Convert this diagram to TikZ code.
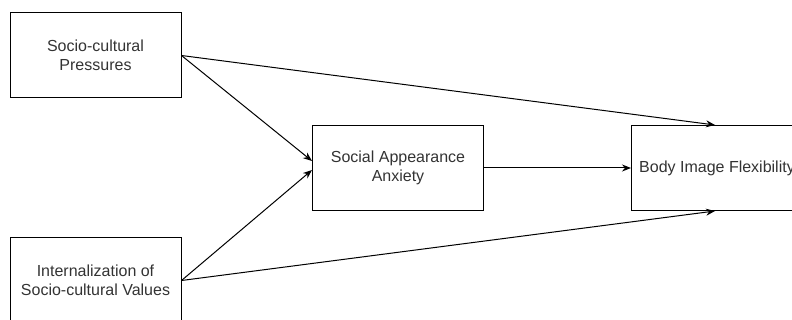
\documentclass[tikz,border=0pt]{standalone}
\usepackage{fontspec}
\setmainfont{Liberation Sans}
\usetikzlibrary{arrows.meta}

\definecolor{txtgray}{rgb}{0.2,0.2,0.2}

\begin{document}
\begin{tikzpicture}[x=1pt, y=-1pt,
    box/.style={draw=black, line width=1pt, minimum width=171pt, minimum height=85pt,
        align=center, text=txtgray, font=\fontsize{16}{19}\selectfont},
    path/.style={black, line width=1pt, -{Stealth[length=9pt, width=7pt]}}]
            \useasboundingbox (0,0) rectangle (792,320);

            \node[box] (pressures) at (95.5,55.5) {Socio-cultural\\Pressures};
            \node[box] (values) at (95.5,280.5) {Internalization of\\Socio-cultural Values};
            \node[box] (anxiety) at (398,168) {Social Appearance\\Anxiety};
            \node[box] (flexibility) at (717,168) {Body Image Flexibility};

            \draw[path] (pressures.east) -- ([xshift=-2pt]flexibility.north);
            \draw[path] (pressures.east) -- ([yshift=7pt]anxiety.west);
            \draw[path] (values.east) -- ([yshift=-2pt]anxiety.west);
            \draw[path] (values.east) -- ([xshift=-2pt]flexibility.south);
            \draw[path] (anxiety.east) -- (flexibility.west);
        \end{tikzpicture}
\end{document}
